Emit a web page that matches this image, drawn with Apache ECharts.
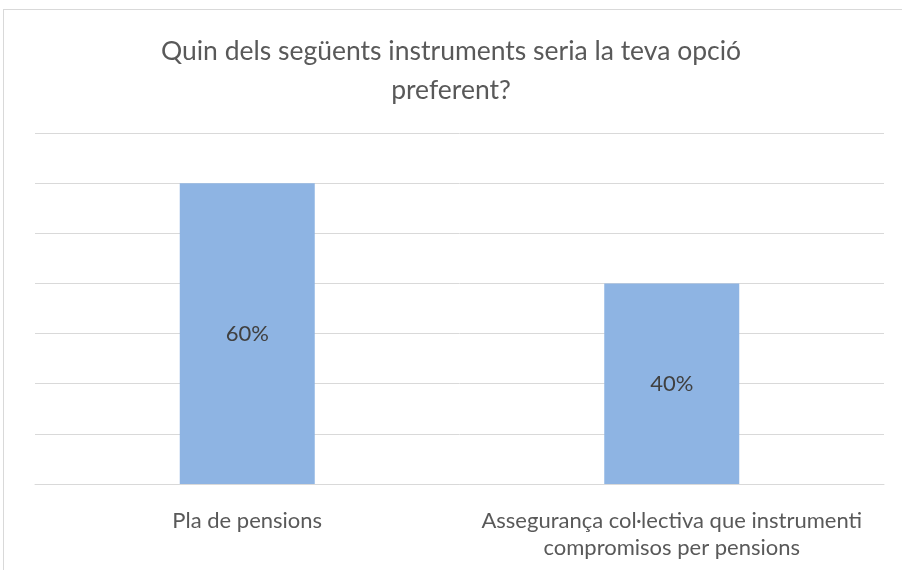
<!DOCTYPE html>
<html>
<head>
<meta charset="utf-8">
<script src="https://cdn.jsdelivr.net/npm/echarts@6/dist/echarts.min.js"></script>
<style>
  html, body { margin: 0; padding: 0; background: #fff; overflow: hidden; }
  #frame {
    position: absolute; left: 3px; top: 9px; width: 920px; height: 600px;
    border: 1px solid #d9d9d9; box-sizing: border-box;
  }
  #chart { position: absolute; left: 0; top: 0; width: 902px; height: 570px; }
</style>
</head>
<body>
<div id="frame"></div>
<div id="chart"></div>
<script>
const titleText = 'Quin dels següents instruments seria la teva opció\npreferent?'
const categories = ['Pla de pensions', 'Assegurança col·lectiva que instrumenti\ncompromisos per pensions']
const values = [60, 40]
const yMax = 70
const yInterval = 10

const chart = echarts.init(document.getElementById('chart'))
const font = 'Lato, sans-serif'

chart.setOption({
  animation: false,
  backgroundColor: 'transparent',
  title: {
    text: titleText,
    left: 'center',
    top: 27,
    textStyle: { color: '#595959', fontSize: 26.5, fontWeight: 'normal', fontFamily: font, lineHeight: 39 },
  },
  grid: { left: 35, right: 18, top: 133, bottom: 86 },
  xAxis: {
    type: 'category',
    data: categories,
    axisLine: { lineStyle: { color: '#d9d9d9', width: 1 } },
    axisTick: { show: false },
    axisLabel: { color: '#595959', fontSize: 22, fontFamily: font, margin: 23, lineHeight: 27, interval: 0 },
  },
  yAxis: {
    type: 'value',
    min: 0,
    max: yMax,
    interval: yInterval,
    axisLine: { show: false },
    axisTick: { show: false },
    axisLabel: { show: false },
    splitLine: { lineStyle: { color: '#d9d9d9', width: 1 } },
  },
  series: [
    {
      type: 'bar',
      data: values,
      barWidth: 135,
      itemStyle: { color: '#8eb4e3' },
      label: {
        show: true,
        position: 'inside',
        formatter: '{c}%',
        color: '#404040',
        fontSize: 22,
        fontFamily: font,
      },
    },
  ],
})
</script>
</body>
</html>
